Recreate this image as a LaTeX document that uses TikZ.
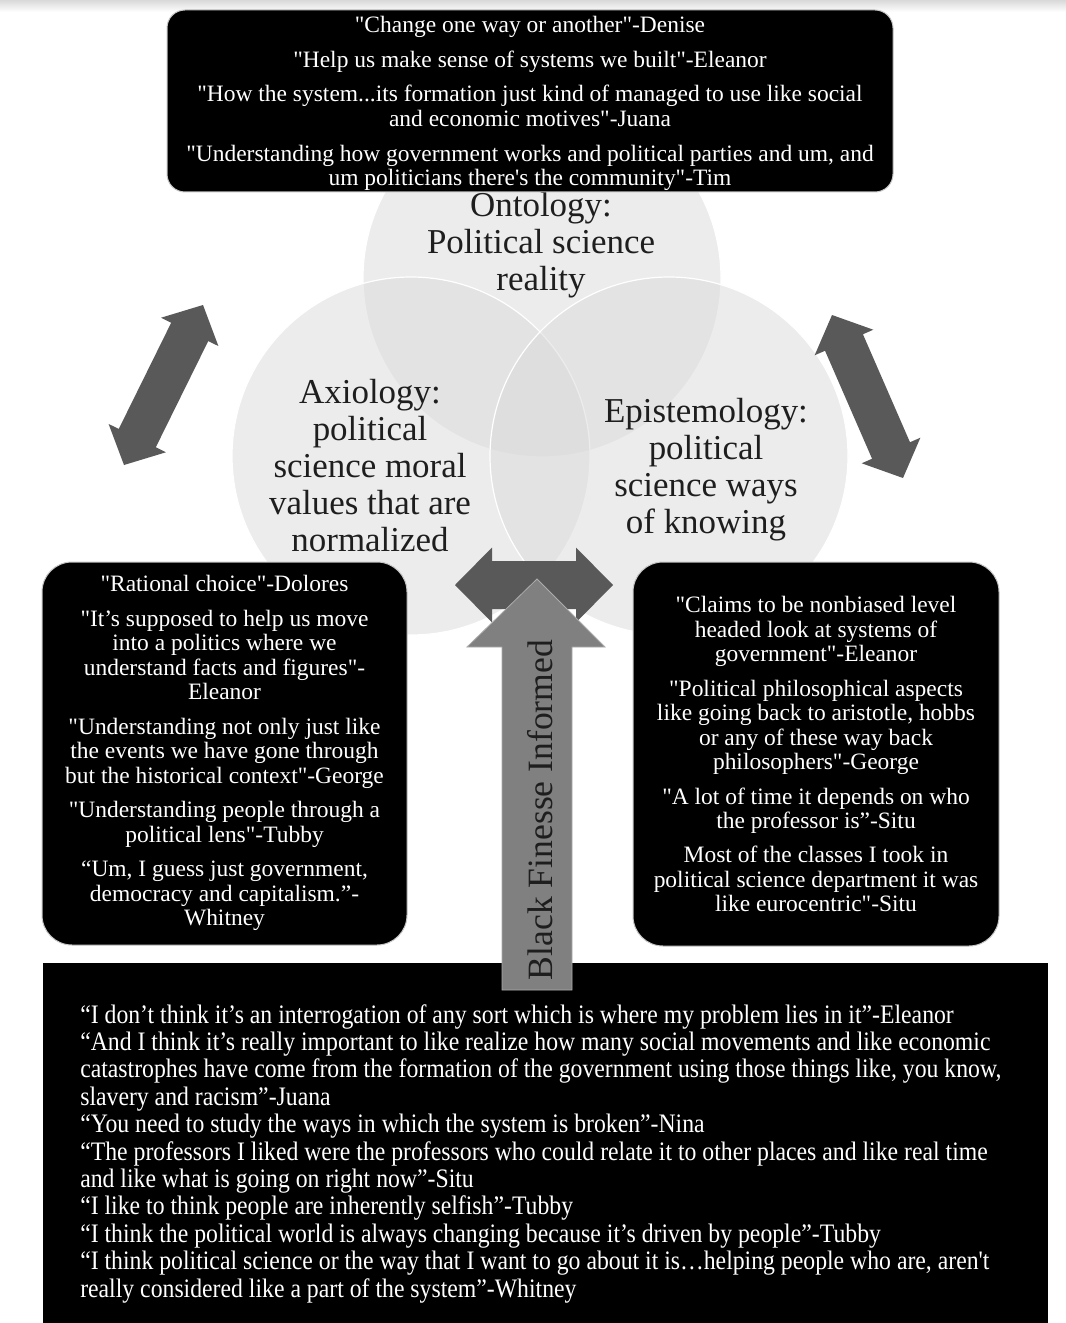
\documentclass[tikz,border=0pt]{standalone}
\usepackage{fontspec}
\setmainfont{Liberation Serif}[Ligatures=TeXOff]
\newfontfamily\condserif{Liberation Serif}[Ligatures=TeXOff, FakeStretch=0.89]
\usetikzlibrary{calc}

\definecolor{vennfill}{HTML}{DBDBDB}
\definecolor{darkarrow}{HTML}{595959}
\definecolor{midarrow}{HTML}{808080}
\definecolor{labelink}{HTML}{1E1E1E}

\tikzset{
  venncircle/.style={circle, inner sep=0pt, minimum size=268.5pt,
    fill=vennfill, fill opacity=0.5, draw=white, line width=0.9pt},
  vennlabel/.style={text=labelink, align=center, inner sep=0pt,
    font=\fontsize{26.2pt}{27.75pt}\selectfont},
  quotebox/.style={fill=black, draw=gray!45, line width=0.75pt},
  boxtext/.style={text=white, align=center, inner sep=0pt,
    font=\fontsize{17.6pt}{18.4pt}\selectfont},
  longtext/.style={text=white, align=left, inner sep=0pt,
    font=\condserif\fontsize{20pt}{20.55pt}\selectfont},
  arrowlabel/.style={text=labelink, inner sep=0pt,
    font=\fontsize{26.7pt}{30pt}\selectfont}
}

% block double arrow between two named tips:
% #1 name, #2 tip A, #3 tip B, #4 head length, #5 head half width, #6 shaft half width
\newcommand\blockdoublearrow[6]{%
  \coordinate (#1-a) at #2;
  \coordinate (#1-b) at #3;
  \coordinate (#1-pa) at ($(#1-a)!#4!(#1-b)$);
  \coordinate (#1-pb) at ($(#1-b)!#4!(#1-a)$);
  \fill[darkarrow] (#1-a)
    -- ($(#1-pa)!#5!90:(#1-b)$) -- ($(#1-pa)!#6!90:(#1-b)$)
    -- ($(#1-pb)!#6!-90:(#1-a)$) -- ($(#1-pb)!#5!-90:(#1-a)$)
    -- (#1-b)
    -- ($(#1-pb)!#5!90:(#1-a)$) -- ($(#1-pb)!#6!90:(#1-a)$)
    -- ($(#1-pa)!#6!-90:(#1-b)$) -- ($(#1-pa)!#5!-90:(#1-b)$)
    -- cycle;}

\begin{document}
\begin{tikzpicture}[x=0.75pt,y=-0.75pt]
\useasboundingbox (0,0) rectangle (1066,1323);
\fill[white] (0,0) rectangle (1066,1323);
\shade[top color=gray!30, bottom color=white] (0,0) rectangle (1066,12);

% Venn circles
\node[venncircle] (onto)   at (542,278) {};
\node[venncircle] (axio)   at (411,456) {};
\node[venncircle] (episto) at (669,456) {};

\node[vennlabel] (ontolabel)   at (541,245) {Ontology:\\Political science\\reality};
\node[vennlabel] (axiolabel)   at (370,466) {Axiology:\\political\\science moral\\values that are\\normalized};
\node[vennlabel] (epistolabel) at (706,470) {Epistemology:\\political\\science ways\\of knowing};

% quote boxes
\path[quotebox, rounded corners=13.5pt] (167,10) rectangle (893,192);
\node[boxtext, anchor=north] (ontoquotes) at (530,16) {%
"Change one way or another"-Denise\\[7.8pt]
"Help us make sense of systems we built"-Eleanor\\[7.2pt]
"How the system...its formation just kind of managed to use like social\\
and economic motives"-Juana\\[7.8pt]
"Understanding how government works and political parties and um, and\\
um politicians there's the community"-Tim};

\path[quotebox, rounded corners=22.5pt] (42,562) rectangle (407,945);
\node[boxtext, anchor=north] (axioquotes) at (224.5,575) {%
"Rational choice"-Dolores\\[7.5pt]
"It’s supposed to help us move\\
into a politics where we\\
understand facts and figures"-\\
Eleanor\\[7.5pt]
"Understanding not only just like\\
the events we have gone through\\
but the historical context"-George\\[7.5pt]
"Understanding people through a\\
political lens"-Tubby\\[7.5pt]
“Um, I guess just government,\\
democracy and capitalism.”-\\
Whitney};

\path[quotebox, rounded corners=22.5pt] (633,562) rectangle (999,946);
\node[boxtext, anchor=north] (epistoquotes) at (816,596) {%
"Claims to be nonbiased level\\
headed look at systems of\\
government"-Eleanor\\[7.5pt]
"Political philosophical aspects\\
like going back to aristotle, hobbs\\
or any of these way back\\
philosophers"-George\\[7.5pt]
"A lot of time it depends on who\\
the professor is”-Situ\\[7pt]
Most of the classes I took in\\
political science department it was\\
like eurocentric"-Situ};

% arrows between the quote groups and the circles
\blockdoublearrow{leftlink}{(124,465)}{(203,305)}{22.5pt}{24pt}{15.5pt}
\blockdoublearrow{rightlink}{(832,315)}{(903,478)}{22.5pt}{24pt}{15.5pt}
\blockdoublearrow{midlink}{(455,585)}{(613,585)}{27.75pt}{28.1pt}{18pt}

% bottom quote block
\path[quotebox, draw=none] (43,963) rectangle (1048,1323);
\node[longtext, anchor=north west] (basequotes) at (80,1004) {%
“I don’t think it’s an interrogation of any sort which is where my problem lies in it”-Eleanor\\
“And I think it’s really important to like realize how many social movements and like economic\\
catastrophes have come from the formation of the government using those things like, you know,\\
slavery and racism”-Juana\\
“You need to study the ways in which the system is broken”-Nina\\
“The professors I liked were the professors who could relate it to other places and like real time\\
and like what is going on right now”-Situ\\
“I like to think people are inherently selfish”-Tubby\\
“I think the political world is always changing because it’s driven by people”-Tubby\\
“I think political science or the way that I want to go about it is…helping people who are, aren't\\
really considered like a part of the system”-Whitney};

% upward arrow
\coordinate (uptip) at (537,579);
\fill[midarrow, draw=gray!65, line width=0.6pt] (uptip) -- (605,647) -- (572,647) -- (572,990)
  -- (502,990) -- (502,647) -- (467,647) -- cycle;
\node[arrowlabel, rotate=90] (uplabel) at (540,810) {Black Finesse Informed};
\end{tikzpicture}
\end{document}
